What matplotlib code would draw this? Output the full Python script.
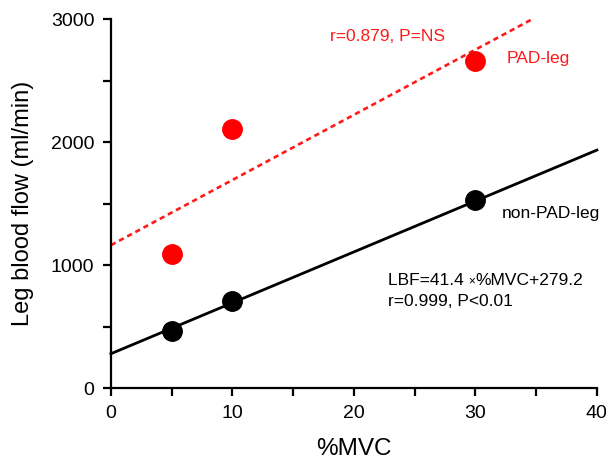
import matplotlib
matplotlib.use("Agg")
import matplotlib.pyplot as plt
from matplotlib.transforms import offset_copy
import numpy as np

plt.rcParams['font.family'] = ['Liberation Sans', 'DejaVu Sans']

# Data
mvc = [5, 10, 30]
non_pad = [463, 707, 1528]
pad = [1090, 2105, 2660]

# Regression lines (slope, intercept, x-range)
non_pad_fit = (41.4, 279.2)
non_pad_range = [0, 40]
pad_fit = (53.0, 1162.0)
pad_range = [0, 34.7]

x_ticks = [0, 10, 20, 30, 40]
y_ticks = [0, 1000, 2000, 3000]

fig = plt.figure(figsize=(6.06, 4.67), dpi=100)
ax = fig.add_axes([0.183, 0.169, 0.802, 0.790])

xr = np.array(non_pad_range, dtype=float)
ax.plot(xr, non_pad_fit[0] * xr + non_pad_fit[1], color='black', lw=2.0, zorder=2, clip_on=False)
xp = np.array(pad_range, dtype=float)
ax.plot(xp, pad_fit[0] * xp + pad_fit[1], color='#ff1a1a', lw=1.9, ls=(0, (2.0, 1.5)), zorder=2, clip_on=False)

ax.plot(mvc, non_pad, 'o', color='black', ms=14, zorder=3, clip_on=False)
ax.plot(mvc, pad, 'o', color='#ff0000', ms=14, zorder=3, clip_on=False)

ax.set_xlim(0, 40)
ax.set_ylim(0, 3000)
ax.set_xticks(x_ticks)
ax.set_yticks(y_ticks)
ax.set_xticks([5, 15, 25, 35], minor=True)
ax.set_yticks([500, 1500, 2500], minor=True)
ax.tick_params(which='major', length=6, width=1.6, labelsize=14, pad=6)
ax.tick_params(which='minor', length=6, width=1.6)
for s in ['top', 'right']:
    ax.spines[s].set_visible(False)
for s in ['left', 'bottom']:
    ax.spines[s].set_linewidth(1.6)

ax.set_xlabel('%MVC', fontsize=17.5, labelpad=12)
ax.set_ylabel('Leg blood flow (ml/min)', fontsize=17, labelpad=12)

red = '#ff1a1a'
fs = 12.5
ax.text(18.0, 2862, 'r=0.879, P=NS', color=red, fontsize=fs, va='center', ha='left')
ax.text(32.6, 2683, 'PAD-leg', color=red, fontsize=fs, va='center', ha='left')
ax.text(32.2, 1423, 'non-PAD-leg', color='black', fontsize=fs, va='center', ha='left')

ly = 838
t1 = ax.text(22.8, ly, 'LBF=41.4 ', color='black', fontsize=fs, va='baseline', ha='left')
fig.canvas.draw()
w1 = t1.get_window_extent().width * 72 / fig.dpi
tx = offset_copy(ax.transData, fig=fig, x=w1, y=0.5, units='points')
t2 = ax.text(22.8, ly, '\u00d7', color='black', fontsize=8.5, va='baseline', ha='left', transform=tx)
fig.canvas.draw()
w2 = t2.get_window_extent().width * 72 / fig.dpi
tx2 = offset_copy(ax.transData, fig=fig, x=w1 + w2, y=0, units='points')
ax.text(22.8, ly, '%MVC+279.2', color='black', fontsize=fs, va='baseline', ha='left', transform=tx2)
ax.text(22.8, 665, 'r=0.999, P<0.01', color='black', fontsize=fs, va='baseline', ha='left')

fig.savefig('out.png', dpi=100)
